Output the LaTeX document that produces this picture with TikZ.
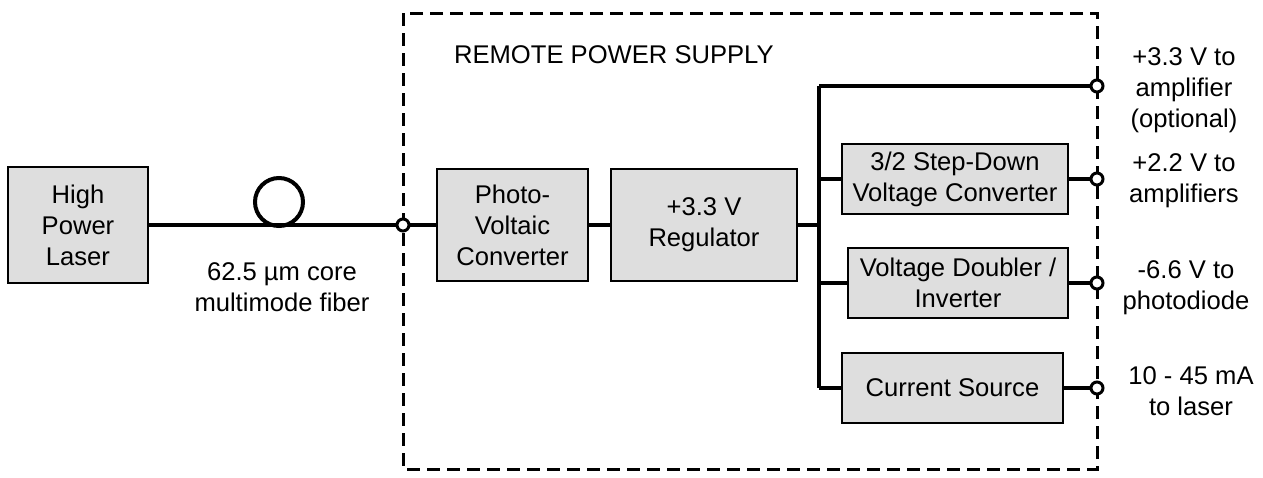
\documentclass[tikz,border=0pt]{standalone}
\usepackage{fontspec}
\setmainfont{Liberation Sans}
\usetikzlibrary{positioning}

\begin{document}
\begin{tikzpicture}[
  x=0.5pt, y=-0.5pt,
  font=\fontsize{12.8}{15.5}\selectfont,
  blk/.style={draw=black, fill=black!13, line width=0.6pt, align=center,
              inner sep=2pt},
  wire/.style={draw=black, line width=2pt},
  frame/.style={draw=black, line width=1.5pt, dash pattern=on 6.5pt off 3.5pt},
  term/.style={circle, draw=black, fill=white, line width=1.5pt,
               minimum size=6pt, inner sep=0pt},
  lbl/.style={align=center, inner sep=1pt}
]
\useasboundingbox (0,0) rectangle (1263,477);

% supply frame
\draw[frame] (403,13) rectangle (1097,469);
\node[anchor=west] (title) at (447,55) {REMOTE POWER SUPPLY};

% blocks
\node[blk, minimum width=70pt, minimum height=58pt] (laser) at (78,225) {High\\Power\\Laser};
\node[blk, minimum width=75.5pt, minimum height=56pt] (pv) at (512.5,225) {Photo-\\Voltaic\\Converter};
\node[blk, minimum width=93pt, minimum height=56pt] (reg) at (704,225) {+3.3 V\\Regulator};
\node[blk, minimum width=113pt, minimum height=35pt] (sdown) at (955,179) {3/2 Step-Down\\Voltage Converter};
\node[blk, minimum width=110pt, minimum height=35pt] (dbl) at (958,283) {Voltage Doubler /\\Inverter};
\node[blk, minimum width=110.5pt, minimum height=35pt] (isrc) at (952.5,388) {Current Source};

% terminals and bus points
\coordinate (tin) at (403,225);
\coordinate (t1) at (1097,86);
\coordinate (t2) at (1097,179);
\coordinate (t3) at (1097,283);
\coordinate (t4) at (1097,388);
\coordinate (bustop) at (819,86);
\coordinate (busbot) at (819,388);
\coordinate (busin) at (819,225);

% fiber
\draw[wire] (laser) -- (tin);
\draw[wire] (279,202) circle[radius=24];
\node[lbl] (fiblbl) at (282,287) {62.5 µm core\\multimode fiber};

% wiring
\draw[wire] (tin) -- (pv);
\draw[wire] (pv) -- (reg);
\draw[wire] (reg) -- (busin);
\draw[wire] (bustop) -- (busbot);
\draw[wire] (bustop) -- (t1);
\draw[wire] (sdown.west -| bustop) -- (sdown);
\draw[wire] (sdown) -- (t2);
\draw[wire] (dbl.west -| bustop) -- (dbl);
\draw[wire] (dbl) -- (t3);
\draw[wire] (busbot) -- (isrc);
\draw[wire] (isrc) -- (t4);

\foreach \t in {tin,t1,t2,t3,t4}
  \node[term] at (\t) {};

% outputs
\node[lbl] (o1) at (1184,90) {+3.3 V to\\amplifier\\(optional)};
\node[lbl] (o2) at (1184,181) {+2.2 V to\\amplifiers};
\node[lbl] (o3) at (1186,288) {-6.6 V to\\photodiode};
\node[lbl] (o4) at (1191,391) {10 - 45 mA\\to laser};
\end{tikzpicture}
\end{document}
